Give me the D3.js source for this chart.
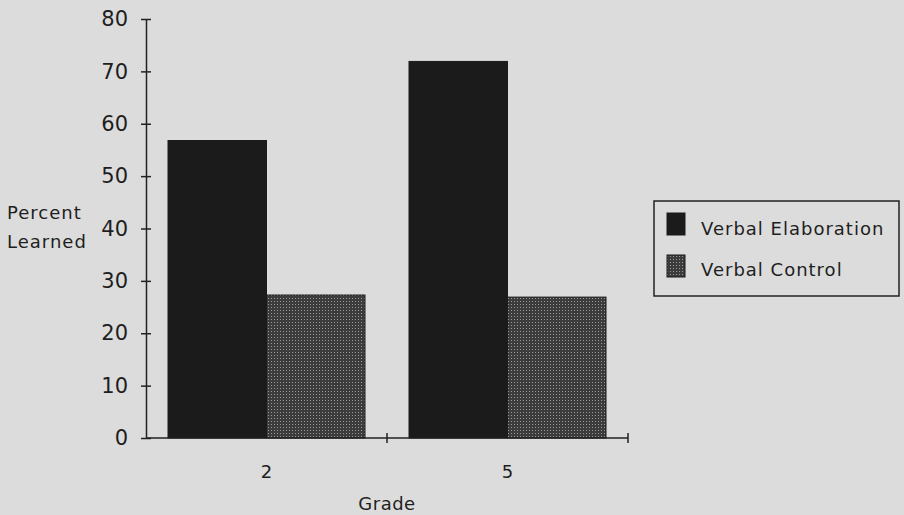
<!DOCTYPE html>
<html>
<head>
<meta charset="utf-8">
<script src="https://cdn.jsdelivr.net/npm/d3@7/dist/d3.min.js"></script>
<style>
  html, body { margin: 0; padding: 0; background: #dcdcdc; }
  svg { display: block; }
  text { font-family: "DejaVu Sans", sans-serif; fill: #1e1e1e; }
</style>
</head>
<body>
<script>
// ---- data ----
const grades = ["2", "5"];
const seriesNames = ["Verbal Elaboration", "Verbal Control"];
const verbalElaboration = [56.8, 71.9];
const verbalControl = [27.3, 26.9];
const yTicks = [0, 10, 20, 30, 40, 50, 60, 70, 80];
const yLabelLines = ["Percent", "Learned"];
const xTitle = "Grade";

const W = 904, H = 515;
const svg = d3.select("body").append("svg").attr("width", W).attr("height", H);
svg.append("rect").attr("width", W).attr("height", H).attr("fill", "#dcdcdc");

const defs = svg.append("defs");
const pat = defs.append("pattern").attr("id", "dots")
  .attr("patternUnits", "userSpaceOnUse").attr("width", 3).attr("height", 3);
pat.append("rect").attr("width", 3).attr("height", 3).attr("fill", "#3c3c3c");
pat.append("rect").attr("x", 1).attr("y", 1).attr("width", 1).attr("height", 1).attr("fill", "#9a9a9a");

const x0 = 146, x1 = 628, yTop = 19, yBot = 438;
const y = d3.scaleLinear().domain([0, 80]).range([yBot, yTop]);
const xBand = d3.scaleBand().domain(grades).range([x0, x1]).padding(0);
const bw = xBand.bandwidth();
const xSub = d3.scaleBand().domain(seriesNames).range([22, bw - 22]).padding(0);

const fills = { "Verbal Elaboration": "#1b1b1b", "Verbal Control": "url(#dots)" };
const seriesValues = { "Verbal Elaboration": verbalElaboration, "Verbal Control": verbalControl };

// bars
const g = svg.append("g");
grades.forEach((gr, i) => {
  seriesNames.forEach(s => {
    const v = seriesValues[s][i];
    g.append("rect")
      .attr("x", xBand(gr) + xSub(s))
      .attr("y", y(v))
      .attr("width", xSub.bandwidth())
      .attr("height", y(0) - y(v))
      .attr("fill", fills[s])
      .attr("stroke", "#1b1b1b").attr("stroke-width", 1);
  });
});

// y axis
const yAxis = d3.axisLeft(y).tickValues(yTicks).tickSize(0).tickPadding(18);
const ya = svg.append("g").attr("transform", `translate(${x0},0)`).call(yAxis);
ya.select(".domain").attr("stroke", "#222").attr("stroke-width", 1.5);
ya.selectAll(".tick text").attr("font-size", 21).attr("font-family", "DejaVu Sans, sans-serif").attr("fill", "#1e1e1e");
ya.selectAll(".tick").append("line").attr("x1", -5).attr("x2", 5).attr("stroke", "#222").attr("stroke-width", 1.5);

// x axis
const xa = svg.append("g").attr("transform", `translate(0,${yBot})`);
xa.append("line").attr("x1", x0).attr("x2", x1).attr("stroke", "#222").attr("stroke-width", 1.5);
grades.forEach(gr => {
  const bx = xBand(gr) + bw;
  xa.append("line").attr("x1", bx).attr("x2", bx).attr("y1", -5).attr("y2", 5)
    .attr("stroke", "#222").attr("stroke-width", 1.5);
  xa.append("text").attr("x", xBand(gr) + bw / 2).attr("y", 40)
    .attr("text-anchor", "middle").attr("font-size", 18).text(gr);
});
svg.append("text").attr("x", (x0 + x1) / 2).attr("y", 510)
  .attr("text-anchor", "middle").attr("font-size", 18).attr("letter-spacing", 0.5).text(xTitle);

// y label
yLabelLines.forEach((t, i) => {
  svg.append("text").attr("x", 7).attr("y", 219 + i * 29)
    .attr("font-size", 18).attr("letter-spacing", 1).text(t);
});

// legend
const lg = svg.append("g");
lg.append("rect").attr("x", 654).attr("y", 201).attr("width", 245).attr("height", 95)
  .attr("fill", "none").attr("stroke", "#222").attr("stroke-width", 1.5);
seriesNames.forEach((s, i) => {
  lg.append("rect").attr("x", 667).attr("y", 213 + i * 42).attr("width", 18).attr("height", 22)
    .attr("fill", fills[s]).attr("stroke", "#1b1b1b");
  lg.append("text").attr("x", 701).attr("y", 235 + i * 41)
    .attr("font-size", 18).attr("letter-spacing", 1).text(s);
});
</script>
</body>
</html>
